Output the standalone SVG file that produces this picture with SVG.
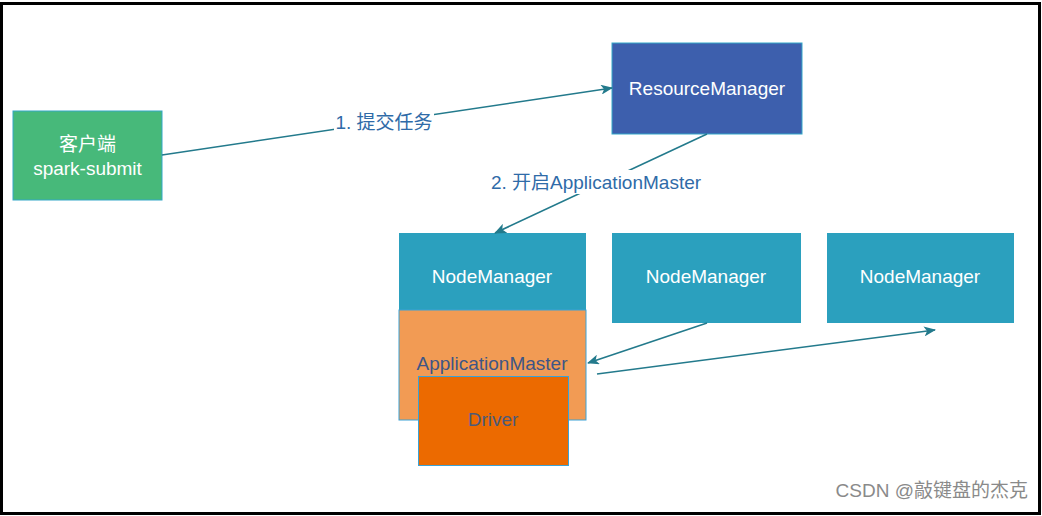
<svg xmlns="http://www.w3.org/2000/svg" width="1042" height="516" viewBox="0 0 1042 516">
<defs>
<marker id="arr" viewBox="0 0 12 10" refX="11" refY="5" markerWidth="12" markerHeight="10" markerUnits="userSpaceOnUse" orient="auto">
<path d="M0,0 L12,5 L0,10 L3,5 Z" fill="#237A8C"/>
</marker>
</defs>
<style>
.t{font-family:"Liberation Sans","Noto Sans CJK SC",sans-serif;font-size:19px;text-anchor:middle;dominant-baseline:central}
.w{fill:#ffffff}
.c{stroke:#237A8C;stroke-width:1.6;fill:none}
.lbl{font-family:"Liberation Sans","Noto Sans CJK SC",sans-serif;font-size:19px;fill:#2F6BA8;text-anchor:middle;dominant-baseline:central}
</style>
<rect x="0" y="0" width="1042" height="516" fill="#ffffff"/>
<rect x="1.5" y="3.5" width="1038" height="510" fill="none" stroke="#000000" stroke-width="3"/>
<g id="client">
<rect x="13" y="111" width="149" height="89" fill="#47B97A" stroke="#34A7C8" stroke-width="1"/>
<text class="t w" x="87.5" y="144">客户端</text>
<text class="t w" x="87.5" y="168">spark-submit</text>
</g>
<g id="resourcemanager">
<rect x="612" y="43" width="190" height="91" fill="#3D5FAD" stroke="#34A7C8" stroke-width="1"/>
<text class="t w" x="707" y="88">ResourceManager</text>
</g>
<g id="nodemanager1">
<rect x="399" y="233" width="187" height="77" fill="#2BA0BE"/>
<text class="t w" x="492" y="276">NodeManager</text>
</g>
<g id="applicationmaster">
<rect x="399" y="310" width="187" height="110" fill="#F29B54" stroke="#3AA2D6" stroke-width="1"/>
<text class="t" x="492" y="363" fill="#3E5686">ApplicationMaster</text>
</g>
<g id="driver">
<rect x="418.5" y="376.5" width="150" height="89" fill="#EC6A00" stroke="#3AA2D6" stroke-width="1"/>
<text class="t" x="493" y="419" fill="#4A5A7A">Driver</text>
</g>
<g id="nodemanager2">
<rect x="612" y="233" width="189" height="90" fill="#2BA0BE"/>
<text class="t w" x="706" y="276">NodeManager</text>
</g>
<g id="nodemanager3">
<rect x="827" y="233" width="187" height="90" fill="#2BA0BE"/>
<text class="t w" x="920" y="276">NodeManager</text>
</g>
<g id="connectors">
<line class="c" x1="162" y1="155" x2="612" y2="88" marker-end="url(#arr)"/>
<line class="c" x1="707" y1="134" x2="495" y2="233" marker-end="url(#arr)"/>
<line class="c" x1="707" y1="323" x2="588" y2="363" marker-end="url(#arr)"/>
<line class="c" x1="597" y1="374" x2="935" y2="330" marker-end="url(#arr)"/>
<rect x="334" y="110" width="100" height="24" fill="#ffffff"/>
<text class="lbl" x="384" y="122">1. 提交任务</text>
<rect x="486" y="170" width="220" height="24" fill="#ffffff"/>
<text class="lbl" x="596" y="182">2. 开启ApplicationMaster</text>
</g>
<text x="1028" y="497" font-family="'Liberation Sans','Noto Sans CJK SC',sans-serif" font-size="19" fill="#8A8A8A" text-anchor="end">CSDN @敲键盘的杰克</text>
</svg>
